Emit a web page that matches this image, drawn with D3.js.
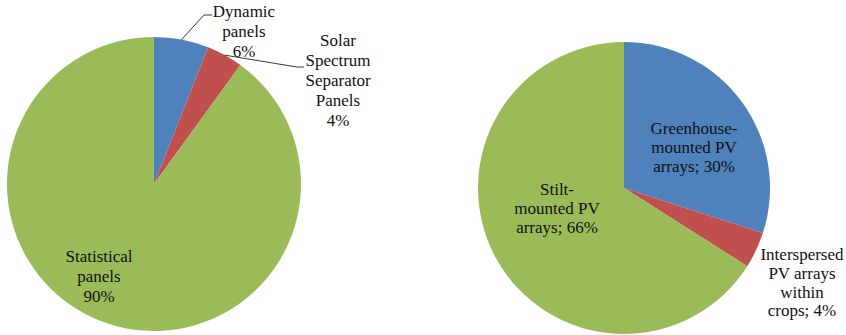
<!DOCTYPE html>
<html><head><meta charset="utf-8">
<script src="https://cdn.jsdelivr.net/npm/d3@7"></script>
<style>body{margin:0;background:#fff}svg{display:block}</style>
</head><body><svg width="846" height="335"></svg>
<script>
const leftCategories = ["Dynamic panels", "Solar Spectrum Separator Panels", "Statistical panels"];
const leftValues = [6, 4, 90];
const leftLabels = [["Dynamic","panels","6%"],["Solar","Spectrum","Separator","Panels","4%"],["Statistical","panels","90%"]];
const rightCategories = ["Greenhouse-mounted PV arrays", "Interspersed PV arrays within crops", "Stilt-mounted PV arrays"];
const rightValues = [30, 4, 66];
const rightLabels = [["Greenhouse-","mounted PV","arrays; 30%"],["Interspersed","PV arrays","within","crops; 4%"],["Stilt-","mounted PV","arrays; 66%"]];
const colors = ["#4F81BD", "#C0504D", "#9BBB59"];

const svg = d3.select("svg");
const pie = d3.pie().sort(null).value(d => d);

function drawPie(values, labels, cx, cy, r, labelPos, lineH, leaders) {
  const g = svg.append("g").attr("transform", `translate(${cx},${cy})`);
  const arcs = pie(values);
  const arc = d3.arc().innerRadius(0).outerRadius(r);
  g.selectAll("path").data(arcs).join("path").attr("d", arc).attr("fill", (d,i) => colors[i]);
  arcs.forEach((a, i) => {
    const [lx, ly] = labelPos[i];
    const t = svg.append("text").attr("text-anchor", "middle")
      .attr("font-family", "Liberation Serif").attr("font-size", 17).attr("fill", "#111");
    labels[i].forEach((s, k) => t.append("tspan").attr("x", lx).attr("y", ly + k * lineH).text(s));
    if (leaders && leaders[i]) {
      const mid = (a.startAngle + a.endAngle) / 2;
      const sx = cx + r * Math.sin(mid), sy = cy - r * Math.cos(mid);
      const pts = [[sx, sy]].concat(leaders[i]);
      svg.append("path").attr("d", d3.line()(pts)).attr("fill", "none").attr("stroke", "#222").attr("stroke-width", 0.9);
    }
  });
}

drawPie(leftValues, leftLabels, 154, 184, 147,
  [[244, 17], [338, 46], [99, 262]], 20,
  [[[204, 15], [212, 15]], [[297, 67], [304, 67]], null]);
drawPie(rightValues, rightLabels, 624, 188, 146,
  [[694, 134], [802, 260], [557, 195]], 18.8, null);
</script></body></html>
